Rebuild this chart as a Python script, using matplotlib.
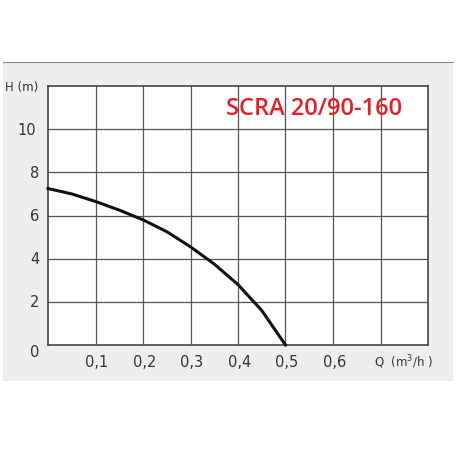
import matplotlib
matplotlib.use("Agg")
import matplotlib.pyplot as plt
import numpy as np

q = [0.0, 0.05, 0.1, 0.15, 0.2, 0.25, 0.3, 0.35, 0.4, 0.45, 0.5]
h = [7.25, 7.0, 6.65, 6.25, 5.8, 5.25, 4.55, 3.75, 2.8, 1.6, 0.0]
xticks = [0.1, 0.2, 0.3, 0.4, 0.5, 0.6]
xlabels = ["0,1", "0,2", "0,3", "0,4", "0,5", "0,6"]
yticks = [0, 2, 4, 6, 8, 10]
title = "SCRA 20/90-160"

fig = plt.figure(figsize=(4.6, 4.6), dpi=100)
fig.patch.set_facecolor("white")
bg = fig.add_axes([3/460, 1-382/460, 450/460, (382-63)/460])
bg.set_facecolor("#eeeeee")
bg.set_xticks([]); bg.set_yticks([])
for k, s in bg.spines.items():
    s.set_visible(k == "top"); s.set_color("#888888")

ax = fig.add_axes([48/460, 1-346/460, 380/460, 259/460])
ax.set_facecolor("white")
ax.set_xlim(0, 0.8)
ax.set_ylim(0, 12)
for x in np.arange(0.1, 0.8, 0.1):
    ax.axvline(x, color="#555555", lw=0.9)
for y in range(2, 12, 2):
    ax.axhline(y, color="#555555", lw=0.9)
for s in ax.spines.values():
    s.set_color("#444444"); s.set_linewidth(1.2)
ax.set_xticks([]); ax.set_yticks([])
ax.plot(q, h, color="#111111", lw=2.2, zorder=3, clip_on=False)

for x, l in zip(xticks, xlabels):
    ax.text(x + 0.003, -0.75, l, ha="center", va="center", fontsize=10.5, color="#333333", clip_on=False)
for y in yticks:
    ax.text(-0.028 if y < 10 else -0.045, y - (0.3 if y == 0 else 0), str(y), ha="center", va="center", fontsize=10.5, color="#333333")
ax.text(-0.055, 12.0, "H (m)", ha="center", va="center", fontsize=8.5, color="#333333")
ax.text(0.748, -0.75, r"Q  (m$^3$/h )", ha="center", va="center", fontsize=8.5, color="#333333")
ax.text(0.56, 11.0, title, ha="center", va="center", fontsize=17, color="#e0202a", family="Open Sans", fontweight="semibold")

fig.savefig("out.png", dpi=100)
